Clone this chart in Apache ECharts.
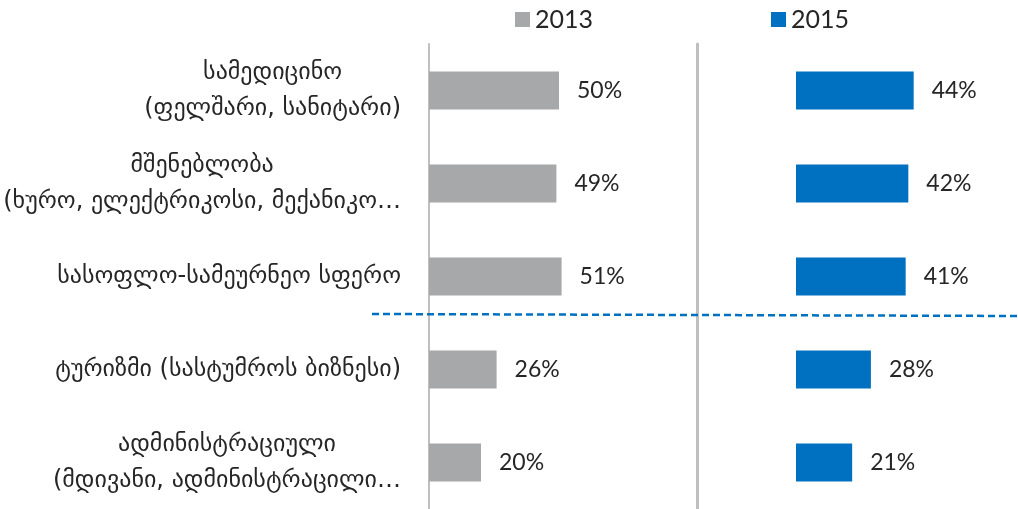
<!DOCTYPE html>
<html>
<head>
<meta charset="utf-8">
<script src="https://cdn.jsdelivr.net/npm/echarts@6/dist/echarts.min.js"></script>
<style>
html, body { margin: 0; padding: 0; background: #fff; }
#chart { width: 1018px; height: 509px; }
</style>
</head>
<body>
<div id="chart"></div>
<script>
// 数据
var categories = [
	'სამედიცინო\n(ფელშარი, სანიტარი)',
	'მშენებლობა\n(ხურო, ელექტრიკოსი, მექანიკო…',
	'სასოფლო-სამეურნეო სფერო',
	'ტურიზმი (სასტუმროს ბიზნესი)',
	'ადმინისტრაციული\n(მდივანი, ადმინისტრაცილი…'
];
var seriesNames = ['2013', '2015'];
var values2013 = [50, 49, 51, 26, 20];
var values2015 = [44, 42, 41, 28, 21];

var grey = '#A7A8AA';
var blue = '#0070C0';
var textColor = '#262626';

var myChart = echarts.init(document.getElementById('chart'));

var valueLabel = {
	show: true,
	position: 'right',
	distance: 18,
	formatter: '{c}%',
	color: textColor,
	fontFamily: 'Lato',
	fontSize: 23
};

var legendText = { fontFamily: 'Lato', fontSize: 25, color: textColor };

var option = {
	animation: false,
	legend: [
		{
			data: [seriesNames[0]],
			left: 510, top: 2,
			itemWidth: 15, itemHeight: 15, itemGap: 8,
			icon: 'rect',
			textStyle: legendText
		},
		{
			data: [seriesNames[1]],
			left: 766, top: 2,
			itemWidth: 15, itemHeight: 15, itemGap: 8,
			icon: 'rect',
			textStyle: legendText
		}
	],
	grid: [
		{ left: 429, width: 260, top: 44, bottom: -3 },
		{ left: 796, right: 0, top: 44, bottom: -3 }
	],
	xAxis: [
		{ gridIndex: 0, type: 'value', min: 0, max: 100, show: false },
		{ gridIndex: 1, type: 'value', min: 0, max: 83, show: false }
	],
	yAxis: [
		{
			gridIndex: 0,
			type: 'category',
			inverse: true,
			data: categories,
			axisLine: { show: true, lineStyle: { color: '#BFBFBF', width: 2 } },
			axisTick: { show: false },
			axisLabel: {
				margin: 28,
				align: 'right',
				formatter: function (v) {
					return v.split('\n').map(function (l) { return '{c|' + l + '}'; }).join('\n');
				},
				rich: {
					c: { align: 'center', fontFamily: 'DejaVu Sans', fontSize: 24, lineHeight: 36, color: textColor }
				}
			}
		},
		{
			gridIndex: 1,
			type: 'category',
			inverse: true,
			data: categories,
			offset: 99,
			axisLine: { show: true, onZero: false, lineStyle: { color: '#BFBFBF', width: 3 } },
			axisTick: { show: false },
			axisLabel: { show: false }
		}
	],
	series: [
		{
			name: seriesNames[0],
			type: 'bar',
			xAxisIndex: 0, yAxisIndex: 0,
			barWidth: 38,
			itemStyle: { color: grey },
			label: valueLabel,
			data: values2013
		},
		{
			name: seriesNames[1],
			type: 'bar',
			xAxisIndex: 1, yAxisIndex: 1,
			barWidth: 38,
			itemStyle: { color: blue },
			label: valueLabel,
			data: values2015
		}
	],
	graphic: [
		{
			type: 'line',
			shape: { x1: 372, y1: 314, x2: 1018, y2: 316 },
			style: { stroke: blue, lineWidth: 2.5, lineDash: [7, 4] },
			z: 10
		}
	]
};

myChart.setOption(option);
</script>
</body>
</html>
